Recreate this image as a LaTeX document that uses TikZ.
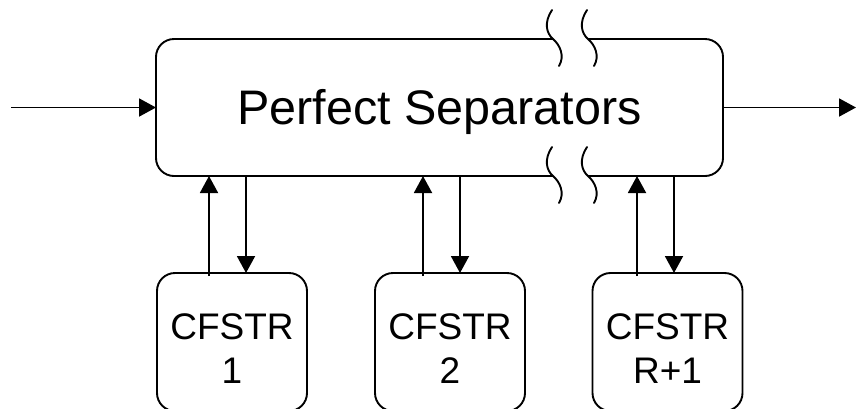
\documentclass[tikz,border=0pt]{standalone}
\usepackage{fontspec}
\setmainfont{Liberation Sans}
\usetikzlibrary{arrows.meta}
\begin{document}
\begin{tikzpicture}[x=1pt,y=-1pt,
  line width=1.9pt,
  tip/.style={-{Triangle[length=17pt,width=18pt]}},
  cbox/.style={draw,rounded corners=18pt,minimum width=150pt,minimum height=138pt,inner sep=0pt,outer sep=0pt},
  ctext/.style={align=center,inner sep=0pt,font=\fontsize{37}{44}\selectfont},
  brk/.style={line cap=round}]
\clip (0,0) rectangle (857,408);
\useasboundingbox (0,0) rectangle (857,408);
% main box (outline drawn broken)
\node[minimum width=567pt,minimum height=137pt,inner sep=0pt,outer sep=0pt] (ps) at (439.5,107.5) {};
\node[anchor=base,font=\fontsize{48.5}{58}\selectfont] (pstext) at (439.5,124.5) {Perfect Separators};
\draw[rounded corners=18pt] (553,39) -- (ps.north west) -- (ps.south west) -- (553,176);
\draw[rounded corners=18pt] (588,176) -- (ps.south east) -- (ps.north east) -- (588,39);
% break marks
\draw[brk] (552,10) .. controls (544,22) and (546,33) .. (553,39) .. controls (560,45) and (565,56) .. (559,66);
\draw[brk] (587,10) .. controls (579,22) and (581,33) .. (588,39) .. controls (595,45) and (600,56) .. (594,66);
\draw[brk] (552,147) .. controls (544,159) and (546,170) .. (553,176) .. controls (560,182) and (565,193) .. (559,203);
\draw[brk] (587,147) .. controls (579,159) and (581,170) .. (588,176) .. controls (595,182) and (600,193) .. (594,203);
% input / output
\coordinate (in) at (11,107.5);
\coordinate (out) at (856,107.5);
\draw[tip] (in) -- (ps.west);
\draw[tip] (ps.east) -- (out);
% CFSTR boxes
\node[cbox] (c1) at (232,342) {};
\node[cbox] (c2) at (450,342) {};
\node[cbox] (c3) at (667.5,342) {};
\node[ctext] (c1t) at (232,349) {CFSTR\\1};
\node[ctext] (c2t) at (450,349) {CFSTR\\2};
\node[ctext] (c3t) at (667.5,349) {CFSTR\\R+1};
% connectors
\draw[tip] ([xshift=-23pt,yshift=-3pt]c1.north) -- ([xshift=-23pt]c1.north |- ps.south);
\draw[tip] ([xshift=14pt]c1.north |- ps.south) -- ([xshift=14pt]c1.north);
\draw[tip] ([xshift=-27pt,yshift=-3pt]c2.north) -- ([xshift=-27pt]c2.north |- ps.south);
\draw[tip] ([xshift=10pt]c2.north |- ps.south) -- ([xshift=10pt]c2.north);
\draw[tip] ([xshift=-30.5pt,yshift=-3pt]c3.north) -- ([xshift=-30.5pt]c3.north |- ps.south);
\draw[tip] ([xshift=6.5pt]c3.north |- ps.south) -- ([xshift=6.5pt]c3.north);
\end{tikzpicture}
\end{document}
